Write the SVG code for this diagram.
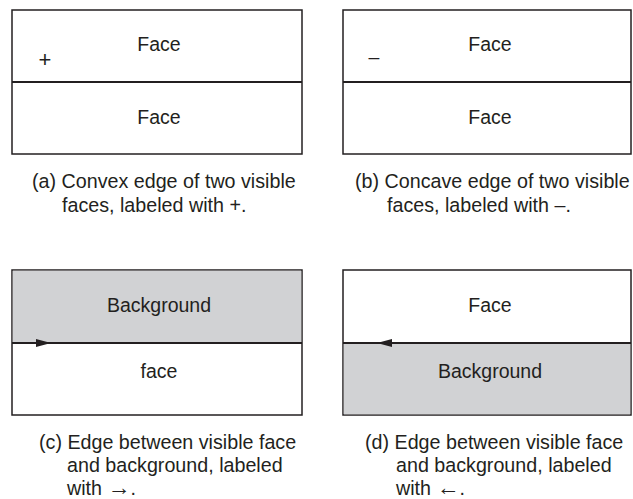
<svg xmlns="http://www.w3.org/2000/svg" width="633" height="499" viewBox="0 0 633 499">
<style>
.box{fill:#ffffff;stroke:#231f20;stroke-width:1.5}
.bg{fill:#d1d2d4;stroke:none}
.edge{stroke:#231f20;stroke-width:2;fill:none}
.lbl{font-family:"Liberation Sans",Arial,sans-serif;font-size:19.5px;fill:#231f20;text-anchor:middle}
.cap{font-family:"Liberation Sans","DejaVu Sans",Arial,sans-serif;font-size:19.7px;fill:#231f20}
.head{fill:#231f20}
</style>
<rect width="633" height="499" fill="#ffffff"/>
<g id="panel-a">
<rect class="box" x="12" y="10" width="290" height="144"/>
<text class="lbl" x="159" y="51">Face</text>
<text class="lbl" x="159" y="124">Face</text>
<text class="lbl" x="45" y="67" style="font-size:22px">+</text>
<text class="cap" x="32" y="188">(a) Convex edge of two visible</text>
<text class="cap" x="62" y="212">faces, labeled with +.</text>
</g>
<g id="panel-b">
<rect class="box" x="343" y="10" width="288" height="144"/>
<text class="lbl" x="490" y="51">Face</text>
<text class="lbl" x="490" y="124">Face</text>
<text class="lbl" x="374" y="64">–</text>
<text class="cap" x="355" y="188">(b) Concave edge of two visible</text>
<text class="cap" x="387" y="212">faces, labeled with –.</text>
</g>
<g id="panel-c">
<rect class="box" x="12" y="270" width="290" height="145"/>
<rect class="bg" x="12.75" y="270.75" width="288.5" height="72.25"/>
<text class="lbl" x="159" y="312">Background</text>
<text class="lbl" x="159" y="378">face</text>
<text class="cap" x="39" y="449">(c) Edge between visible face</text>
<text class="cap" x="67" y="472">and background, labeled</text>
<text class="cap" x="67" y="495">with <tspan style="font-size:23px">→</tspan>.</text>
</g>
<g id="panel-d">
<rect class="box" x="343" y="270" width="288" height="145"/>
<rect class="bg" x="343.75" y="343" width="286.5" height="71.25"/>
<text class="lbl" x="490" y="312">Face</text>
<text class="lbl" x="490" y="378">Background</text>
<text class="cap" x="365" y="449">(d) Edge between visible face</text>
<text class="cap" x="396" y="472">and background, labeled</text>
<text class="cap" x="396" y="495">with <tspan style="font-size:23px">←</tspan>.</text>
</g>
<g id="connectors">
<line class="edge" x1="12" y1="82" x2="302" y2="82"/>
<line class="edge" x1="343" y1="82" x2="631" y2="82"/>
<line class="edge" x1="12" y1="343" x2="302" y2="343"/>
<polygon class="head" points="36,339 51,343 36,347"/>
<line class="edge" x1="343" y1="343" x2="631" y2="343"/>
<polygon class="head" points="392,339 377,343 392,347"/>
</g>
</svg>
